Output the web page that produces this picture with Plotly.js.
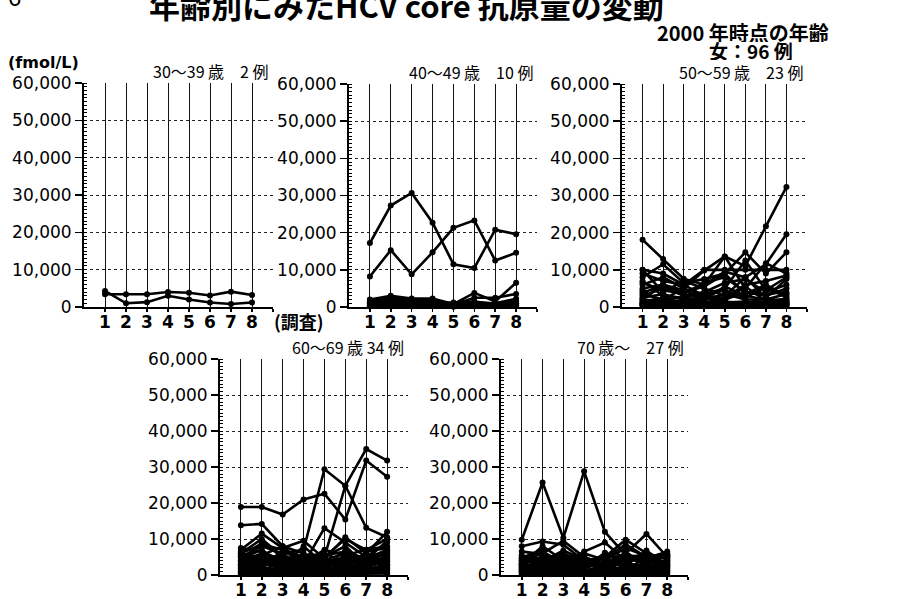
<!DOCTYPE html>
<html><head><meta charset="utf-8">
<script src="https://cdn.plot.ly/plotly-3.0.1.min.js"></script>
<style>html,body{margin:0;padding:0;background:#fff;overflow:hidden}#chart{width:899px;height:599px}</style>
</head><body><div id="chart"></div>
<script>
// ---- data ----
const surveys = [1, 2, 3, 4, 5, 6, 7, 8];
const xTickText = ['1', '2', '3', '4', '5', '6', '7', '8', ''];
const yTickVals = [0, 10000, 20000, 30000, 40000, 50000, 60000];

const age30s = [
  [3400, 3400, 3400, 4000, 3800, 3100, 4100, 3200],
  [4300, 1000, 1300, 3000, 2000, 1200, 800, 1200]
];
const age40s = [
  [17200, 27300, 30700, 22700, 11500, 10500, 20800, 19600],
  [8200, 15300, 8800, 14700, 21300, 23300, 12500, 14600],
  [2000, 3000, 2300, 2300, 800, 3800, 1500, 6500],
  [1500, 2500, 2000, 1800, 600, 2500, 2500, 3500],
  [1000, 1500, 1200, 1200, 500, 1200, 1000, 2200],
  [500, 800, 700, 900, 300, 600, 400, 800],
  [300, 400, 300, 500, 200, 300, 300, 500],
  [1200, 2000, 1500, 1000, 1200, 1500, 800, 1500],
  [200, 200, 200, 300, 100, 200, 200, 300],
  [800, 1200, 900, 1500, 700, 900, 600, 1000]
];
const age50s = [
  [3000, 5000, 4000, 6000, 13600, 11000, 21700, 32300],
  [18100, 12900, 7600, 6000, 9500, 8000, 11500, 19600],
  [10000, 9000, 6000, 10000, 10000, 10000, 10000, 10000],
  [8000, 11500, 6500, 7500, 9000, 14700, 9000, 14700],
  [7000, 3000, 2500, 3500, 5000, 12500, 4500, 8000],
  [6000, 8000, 5000, 9800, 13600, 5000, 11800, 9000],
  [5000, 6000, 4000, 5500, 9000, 3500, 6000, 3000],
  [10000, 4000, 7000, 5000, 3000, 8000, 2500, 7500],
  [4000, 5500, 3000, 4000, 6500, 7500, 4000, 6000],
  [3500, 2000, 5000, 3000, 4500, 2500, 5500, 2500],
  [2500, 3500, 2000, 2500, 2000, 4000, 3000, 5000],
  [2000, 1500, 1500, 2000, 3500, 2000, 2000, 1800],
  [1500, 2500, 1000, 1500, 1200, 1500, 1000, 1500],
  [1000, 800, 1200, 1000, 800, 1000, 1500, 1000],
  [800, 1200, 600, 800, 600, 700, 800, 700],
  [500, 600, 400, 500, 400, 500, 500, 500],
  [9000, 7000, 6000, 3000, 2500, 6000, 7000, 8500],
  [6500, 4500, 3500, 6500, 8000, 4000, 3500, 4000],
  [2000, 6000, 4500, 2000, 5500, 3000, 2000, 3500],
  [300, 300, 300, 300, 300, 300, 300, 300],
  [1200, 2000, 2500, 1200, 1000, 1200, 1200, 1200],
  [4500, 1000, 1800, 2800, 1800, 5500, 1600, 2200],
  [700, 1800, 800, 2200, 1500, 900, 2500, 900]
];
const age60s = [
  [18900, 18900, 16800, 21000, 22600, 15400, 31800, 27300],
  [13800, 14200, 8000, 3000, 5000, 10000, 7000, 10000],
  [5000, 8000, 6000, 7000, 29400, 24800, 13100, 10500],
  [4000, 3000, 4000, 2000, 5000, 24800, 35000, 31800],
  [7000, 11500, 7500, 9500, 4500, 10500, 6000, 12000],
  [6000, 10000, 5000, 3000, 13000, 9000, 5000, 9000],
  [5000, 4000, 3000, 4500, 2500, 5000, 4000, 6000],
  [4000, 9000, 5000, 2000, 3500, 4000, 3000, 5000],
  [3000, 5500, 8000, 6000, 4000, 3000, 2000, 4500],
  [6500, 3000, 6500, 4000, 5500, 6500, 4500, 7000],
  [2500, 4500, 2500, 8000, 3000, 2500, 6000, 3500],
  [7500, 6500, 4000, 3000, 2000, 7000, 3500, 6500],
  [3500, 2500, 3500, 5000, 6000, 3500, 5000, 3000],
  [2000, 3500, 2000, 2500, 4500, 2000, 2500, 5500],
  [1500, 2000, 1500, 1800, 1200, 1500, 1800, 2000],
  [1000, 1500, 1200, 1000, 1500, 1000, 1200, 1500],
  [800, 1000, 700, 1200, 800, 900, 1000, 800],
  [500, 600, 500, 700, 500, 600, 500, 600],
  [4500, 7000, 3000, 3500, 7000, 5500, 7000, 8000],
  [5500, 5000, 4500, 5500, 3000, 4500, 3000, 4000],
  [3000, 2000, 6000, 1500, 2500, 3000, 5500, 2500],
  [2000, 4000, 1000, 3000, 1000, 2500, 1500, 3000],
  [6000, 2500, 5500, 2000, 5000, 8000, 2500, 5000],
  [1200, 3000, 2500, 4000, 2000, 1200, 4000, 2200],
  [300, 400, 300, 400, 300, 400, 300, 400],
  [2800, 1200, 3800, 2500, 1800, 4500, 2200, 3800],
  [4800, 3500, 1800, 4200, 3800, 1800, 6500, 7500],
  [700, 2200, 900, 600, 2800, 700, 800, 1200],
  [3800, 6000, 4200, 1200, 4200, 6000, 2800, 6800],
  [1800, 800, 2200, 3200, 600, 3800, 1000, 1800],
  [6000, 8500, 7000, 5000, 2200, 5500, 4200, 9500],
  [2200, 4800, 3200, 2000, 3200, 2200, 3600, 4600],
  [900, 1600, 600, 2200, 1400, 1600, 600, 2800],
  [5200, 3200, 5200, 3600, 4800, 3000, 5200, 6200]
];
const age70s = [
  [9800, 25700, 10300, 28800, 12000, 5500, 5000, 5500],
  [8000, 9300, 8400, 4000, 5000, 9800, 6000, 4500],
  [4000, 6000, 9500, 5000, 3000, 6000, 11400, 5000],
  [3500, 5000, 3000, 6500, 9000, 4000, 4500, 6500],
  [5000, 4500, 6000, 3500, 4500, 8500, 5000, 6000],
  [3000, 8000, 4000, 3000, 2500, 5000, 3500, 4000],
  [2500, 3500, 5500, 2500, 6000, 3000, 2500, 3500],
  [4500, 3000, 2500, 4500, 2000, 4500, 6000, 3000],
  [2000, 2500, 2000, 2000, 3500, 2500, 2000, 2500],
  [1500, 2000, 1500, 1500, 1500, 2000, 1500, 2000],
  [1000, 1200, 1000, 1000, 1000, 1200, 1000, 1200],
  [600, 800, 600, 700, 600, 800, 600, 700],
  [300, 400, 300, 300, 400, 300, 400, 300],
  [3800, 4200, 3500, 2200, 4800, 5500, 4200, 5800],
  [2800, 6500, 3200, 3800, 2800, 3500, 5500, 4800],
  [5500, 2800, 4800, 1800, 3800, 2200, 3000, 2200],
  [1800, 3000, 2800, 5200, 1800, 6500, 2200, 3800],
  [3200, 1800, 3800, 2800, 5200, 1500, 4800, 2800],
  [1200, 5500, 1800, 1200, 2200, 3800, 1200, 1500],
  [4200, 3800, 6800, 4200, 1200, 4200, 3800, 5200],
  [2200, 1200, 2200, 3200, 2800, 2800, 2800, 1800],
  [800, 2200, 1200, 800, 3200, 1000, 3200, 1000],
  [3000, 4800, 4500, 6000, 4200, 7500, 5200, 4500],
  [4800, 7000, 1000, 3600, 2400, 3400, 1800, 3300],
  [2600, 2600, 4200, 1600, 6200, 2600, 6800, 2600],
  [1400, 3400, 2600, 4600, 1600, 1800, 2500, 4200],
  [6500, 5800, 3000, 2400, 3600, 4800, 4000, 5500]
];
const panelTitles = ['30～39 歳　2 例', '40～49 歳　10 例', '50～59 歳　23 例', '60～69 歳 34 例', '70 歳～　27 例'];
const groups = [age30s, age40s, age50s, age60s, age70s];

// ---- layout geometry (pixels) ----
const W = 899, H = 599;
const boxes = [
  {l: 84, r: 273, t: 83, b: 307},
  {l: 349, r: 537, t: 84, b: 307},
  {l: 622, r: 807, t: 84, b: 307},
  {l: 220, r: 408, t: 359, b: 575},
  {l: 501, r: 688, t: 359, b: 575}
];
const px = x => x / W;
const py = y => 1 - y / H;

const tickFont = {family: 'DejaVu Sans, Arial, sans-serif', size: 17, color: '#000'};
const jp = 'Noto Sans CJK JP, sans-serif';

const traces = [];
const layout = {
  width: W, height: H,
  margin: {l: 0, r: 0, t: 0, b: 0},
  paper_bgcolor: '#fff', plot_bgcolor: '#fff',
  showlegend: false,
  annotations: []
};

groups.forEach((g, i) => {
  const sfx = i === 0 ? '' : String(i + 1);
  g.forEach(s => traces.push({
    type: 'scatter', mode: 'lines+markers', x: surveys, y: s,
    xaxis: 'x' + sfx, yaxis: 'y' + sfx,
    line: {color: '#000', width: 2.6}, marker: {color: '#000', size: 6},
    hoverinfo: 'skip', cliponaxis: false
  }));
  const b = boxes[i];
  layout['xaxis' + sfx] = {
    domain: [px(b.l), px(b.r)], anchor: 'y' + sfx, range: [0, 9],
    tickmode: 'array', tickvals: [1, 2, 3, 4, 5, 6, 7, 8, 9], ticktext: xTickText,
    showgrid: true, gridcolor: '#111', gridwidth: 1,
    showline: true, linecolor: '#000', linewidth: 2,
    ticks: 'outside', ticklen: 3, tickwidth: 1.5, tickcolor: '#000',
    ticklabelstandoff: -4,
    tickfont: Object.assign({}, tickFont, {size: 17, weight: 'bold'}),
    zeroline: false, fixedrange: true
  };
  layout['yaxis' + sfx] = {
    domain: [py(b.b), py(b.t)], anchor: 'x' + sfx, range: [0, 60000],
    tickmode: 'array', tickvals: yTickVals, tickformat: ',d',
    showgrid: true, gridcolor: '#222', gridwidth: 1, griddash: 'dot',
    showline: true, linecolor: '#000', linewidth: 2,
    ticks: 'outside', ticklen: 7, tickwidth: 1.5, tickcolor: '#000',
    minor: {dtick: 1000, tick0: 0, ticks: 'inside', ticklen: 3, tickwidth: 1, tickcolor: '#000', showgrid: false},
    tickfont: tickFont, zeroline: false, fixedrange: true
  };
  layout.annotations.push({
    text: panelTitles[i], xref: 'paper', yref: 'paper',
    x: px(b.r - 2), y: py(b.t - 12), xanchor: 'right', yanchor: 'middle',
    height: 18,
    showarrow: false, font: {family: jp, size: 16, color: '#000'}
  });
});

const addText = (text, x, y, size, opts) => layout.annotations.push(Object.assign({
  text, xref: 'paper', yref: 'paper', x: px(x), y: py(y), xanchor: 'left', yanchor: 'middle',
  showarrow: false, font: {family: jp, size, color: '#000'}
}, opts || {}));

addText('年齢別にみたHCV core 抗原量の変動', 147, 5, 31, {font: {family: jp, size: 31, color: '#000', weight: 'bold'}});
addText('6', 6, -5, 24);
addText('2000 年時点の年齢', 655, 32, 20, {height: 20, font: {family: jp, size: 20, color: '#000', weight: 'bold'}});
addText('女：96 例', 707, 51, 19, {height: 19, font: {family: jp, size: 19, color: '#000', weight: 'bold'}});
addText('(fmol/L)', 6, 62, 16, {font: {family: 'DejaVu Sans, sans-serif', size: 16, color: '#000', weight: 'bold'}});
addText('(調査)', 272, 321, 18, {font: {family: jp, size: 18, color: '#000', weight: 'bold'}});

Plotly.newPlot('chart', traces, layout, {staticPlot: true, displayModeBar: false});
</script>
</body></html>
